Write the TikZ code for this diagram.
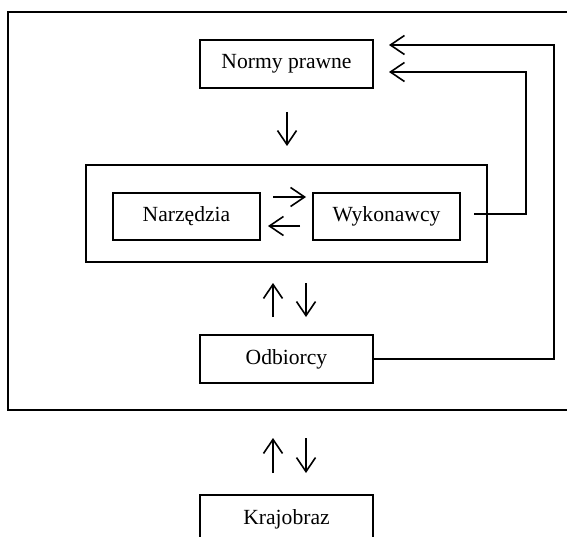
\documentclass[tikz,border=0pt]{standalone}
\usepackage{fontspec}
\setmainfont{Liberation Serif}
\usetikzlibrary{arrows.meta}
\begin{document}
\begin{tikzpicture}[x=1pt,y=-1pt,
  box/.style={draw,line width=1.6pt,minimum width=173pt,minimum height=48pt,inner sep=0pt,font=\fontsize{21.6}{26}\selectfont},
  ibox/.style={draw,line width=1.6pt,minimum width=147pt,minimum height=47pt,inner sep=0pt,font=\fontsize{21.6}{26}\selectfont},
  ln/.style={line width=1.6pt},
  arr/.style={line width=1.6pt,-{Straight Barb[length=14pt,width=19pt]}}]
\useasboundingbox (0,0) rectangle (567,537);
\begin{scope}
\clip (0,0) rectangle (567,537);
\draw[ln] (580,12) -- (8,12) -- (8,410) -- (580,410);
\node[box] (normy) at (286.5,64) {Normy prawne};
\node[draw,line width=1.6pt,minimum width=401pt,minimum height=97pt,inner sep=0pt] (mid) at (286.5,213.5) {};
\node[ibox] (narz) at (186.5,216.5) {Narzędzia};
\node[ibox] (wyk) at (386.5,216.5) {Wykonawcy};
\node[box] (odb) at (286.5,359) {Odbiorcy};
\node[box] (kraj) at (286.5,519) {Krajobraz};
% down arrow
\coordinate (d1) at (287,112); \coordinate (d2) at (287,146);
\draw[arr] (d1) -- (d2);
% between inner boxes
\coordinate (r1) at (273,197); \coordinate (r2) at (306,197);
\draw[arr] (r1) -- (r2);
\coordinate (l1) at (300,226); \coordinate (l2) at (268,226);
\draw[arr] (l1) -- (l2);
% up/down pairs
\draw[arr] (273,317) -- (273,283);
\draw[arr] (306,283) -- (306,317);
\draw[arr] (273,473) -- (273,438);
\draw[arr] (306,438) -- (306,473);
% feedback lines
\coordinate (w0) at (474,214);
\draw[arr] (w0) -- (526,214) -- (526,72) -- (389,72);
\draw[arr] (odb.east) -- (554,359) -- (554,45) -- (389,45);
\end{scope}
\end{tikzpicture}
\end{document}
